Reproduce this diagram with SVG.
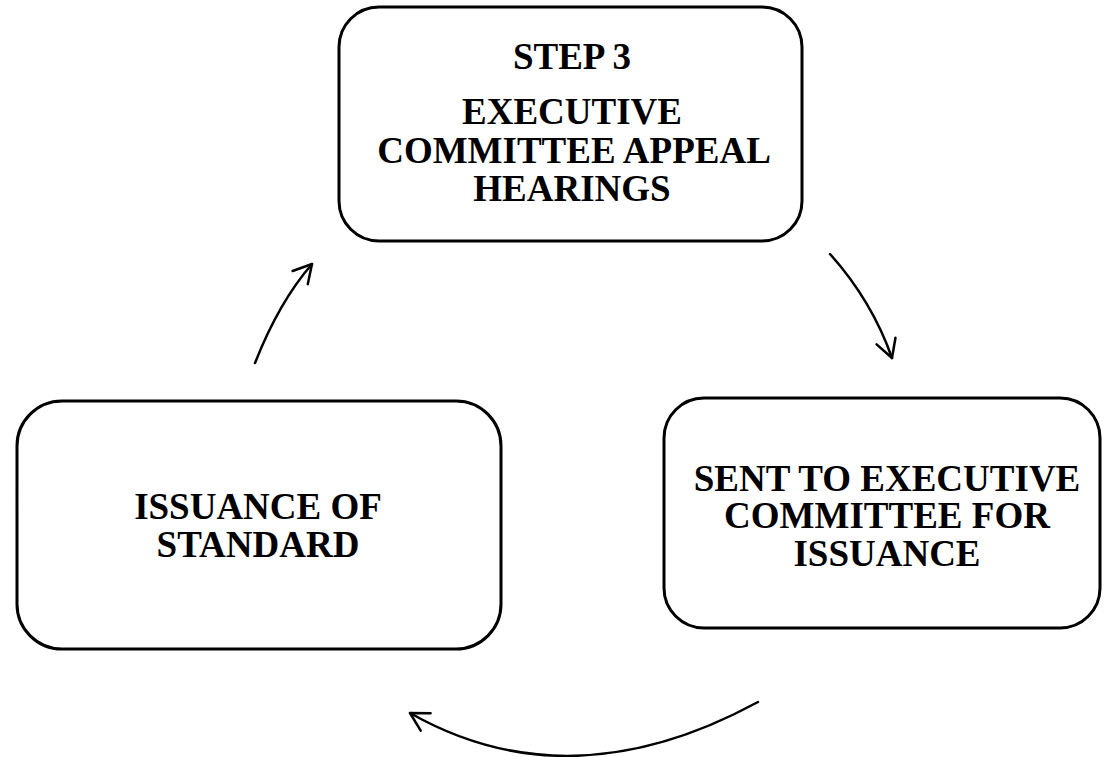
<svg xmlns="http://www.w3.org/2000/svg" width="1104" height="757" viewBox="0 0 1104 757">
<style>
.box{fill:#fff;stroke:#000;stroke-width:3}
.lbl{font-family:"Liberation Serif","Times New Roman",serif;font-weight:bold;font-size:37px;fill:#000;text-anchor:middle}
.conn{fill:none;stroke:#000;stroke-width:2.5;stroke-linecap:round}
</style>
<defs>
<marker id="ah" markerUnits="userSpaceOnUse" viewBox="-22 -13 25 26" markerWidth="25" markerHeight="26" refX="0" refY="0" orient="auto" overflow="visible">
<path d="M-18,-10 L0,0 L-18,10" fill="none" stroke="#000" stroke-width="2.5" stroke-linecap="round" stroke-linejoin="round"/>
</marker>
</defs>
<rect width="1104" height="757" fill="#fff"/>
<g id="step3">
<rect class="box" x="339" y="7" width="463" height="234" rx="40"/>
<text class="lbl" x="572" y="69">STEP 3</text>
<text class="lbl" x="572" y="124">EXECUTIVE</text>
<text class="lbl" x="574" y="163">COMMITTEE APPEAL</text>
<text class="lbl" x="572" y="201">HEARINGS</text>
</g>
<g id="sent">
<rect class="box" x="664" y="398" width="436" height="230" rx="40"/>
<text class="lbl" x="887" y="491">SENT TO EXECUTIVE</text>
<text class="lbl" x="887" y="528">COMMITTEE FOR</text>
<text class="lbl" x="887" y="566">ISSUANCE</text>
</g>
<g id="issuance">
<rect class="box" x="17" y="401" width="484" height="248" rx="45"/>
<text class="lbl" x="258" y="519">ISSUANCE OF</text>
<text class="lbl" x="258" y="557">STANDARD</text>
</g>
<g id="connectors">
<path class="conn" d="M255,363 Q279,302 312,264" marker-end="url(#ah)"/>
<path class="conn" d="M830,254 Q872,301 892,358" marker-end="url(#ah)"/>
<path class="conn" d="M758,702 Q570,804 410,713" marker-end="url(#ah)"/>
</g>
</svg>
